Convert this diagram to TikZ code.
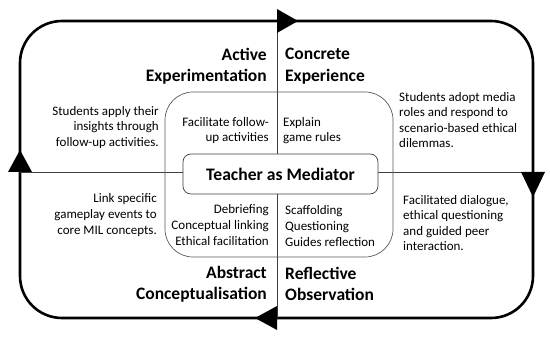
\documentclass[tikz,border=0pt]{standalone}
\usepackage{fontspec}
\setmainfont{Carlito}
\begin{document}
\begin{tikzpicture}[
    x=1pt, y=-1pt,
    loopline/.style={line width=2.6pt, rounded corners=42pt},
    crossline/.style={line width=0.7pt, color=black!75},
    innerbox/.style={line width=0.7pt, color=black!65, rounded corners=28pt},
    mediator/.style={draw=black!75, fill=white, line width=0.7pt, rounded corners=8pt,
        minimum width=195pt, minimum height=40pt, font=\fontsize{17.6}{20}\selectfont\bfseries},
    stage/.style={inner sep=0pt, font=\fontsize{17.5}{21.5}\selectfont\bfseries},
    note/.style={inner sep=0pt, font=\fontsize{13}{15.6}\selectfont}
]
    \useasboundingbox (0,0) rectangle (550,337);

    \coordinate (N) at (277,21);
    \coordinate (S) at (277,318);
    \coordinate (W) at (20,172);
    \coordinate (E) at (533,172);

    \draw[loopline] (20,21) rectangle (533,318);
    \draw[crossline] (N) -- (S);
    \draw[crossline] (W) -- (E);
    \draw[innerbox] (165,92) rectangle (393,257);

    \fill (N) ++(0,-12) -- ++(21,12) -- ++(-21,12) -- cycle;
    \fill (E) ++(-12,0) -- ++(12,25) -- ++(12,-25) -- cycle;
    \fill (S) ++(0,-12) -- ++(-22,12) -- ++(22,12) -- cycle;
    \fill (W) ++(-12,0) -- ++(12,-22) -- ++(12,22) -- cycle;

    \node[mediator] (med) at (280.5,174) {Teacher as Mediator};

    \node[stage, anchor=east, align=right] (ae) at (267,66) {Active\\Experimentation};
    \node[stage, anchor=west, align=left] (ce) at (285,66) {Concrete\\Experience};
    \node[stage, anchor=east, align=right] (ac) at (267,284) {Abstract\\Conceptualisation};
    \node[stage, anchor=west, align=left] (ro) at (285,284) {Reflective\\Observation};

    \node[note, anchor=east, align=right] (apply) at (159,127.5) {Students apply their\\insights through\\follow-up activities.};
    \node[note, anchor=east, align=right] (follow) at (269,130.5) {Facilitate follow-\\up activities};
    \node[note, anchor=west, align=left] (explain) at (283,130.5) {Explain\\game rules};
    \node[note, anchor=west, align=left] (adopt) at (399,120) {Students adopt media\\roles and respond to\\scenario-based ethical\\dilemmas.};
    \node[note, anchor=east, align=right] (link) at (157,215) {Link specific\\gameplay events to\\core MIL concepts.};
    \node[note, anchor=east, align=right] (debrief) at (269,225) {Debriefing\\Conceptual linking\\Ethical facilitation};
    \node[note, anchor=west, align=left] (scaff) at (285,226) {Scaffolding\\Questioning\\Guides reflection};
    \node[note, anchor=west, align=left] (dialogue) at (403,223) {Facilitated dialogue,\\ethical questioning\\and guided peer\\interaction.};
\end{tikzpicture}
\end{document}
